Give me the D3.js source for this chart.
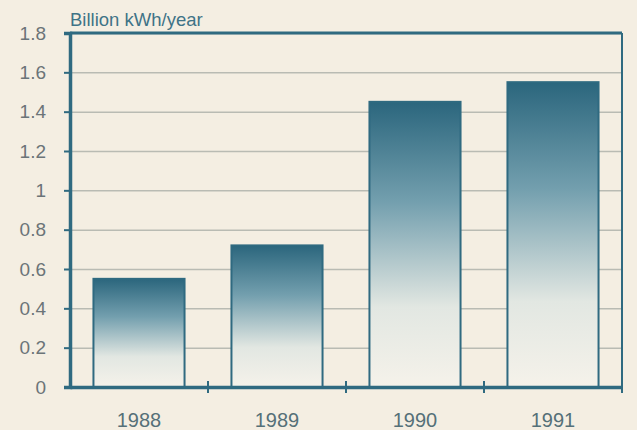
<!DOCTYPE html>
<html>
<head>
<meta charset="utf-8">
<script src="https://cdnjs.cloudflare.com/ajax/libs/d3/7.8.5/d3.min.js"></script>
<style>
  body { margin: 0; background: #f4eee2; }
  svg { display: block; font-family: "Liberation Sans", Arial, sans-serif; }
</style>
</head>
<body>
<script>
 ///////////////////////////////////////////////////////
 // data

 var years = ["1988", "1989", "1990", "1991"];
 var values = [0.55, 0.72, 1.45, 1.55];
 var yTicks = [0, 0.2, 0.4, 0.6, 0.8, 1, 1.2, 1.4, 1.6, 1.8];
 var unitLabel = "Billion kWh/year";

 ///////////////////////////////////////////////////////
 // margins

 var w = 637;
 var h = 430;
 var svg = d3.select("body").append("svg")
   .attr("width", w)
   .attr("height", h),
   margin = { top: 33, bottom: 43, left: 70, right: 15 },
   width = w - margin.left - margin.right,
   height = h - margin.top - margin.bottom;

 var teal = "#2f6a80";

 ///////////////////////////////////////////////////////
 // scales

 var x = d3.scaleBand()
   .domain(years)
   .range([0, width])
   .paddingInner(0.34)
   .paddingOuter(0.17);
 var y = d3.scaleLinear()
   .domain([0, 1.8])
   .range([height, 0]);

 // gradient for bars
 var grad = svg.append("defs").append("linearGradient")
   .attr("id", "barGrad")
   .attr("x1", 0).attr("y1", 0).attr("x2", 0).attr("y2", 1);
 grad.append("stop").attr("offset", "0%").attr("stop-color", "#2b667d");
 grad.append("stop").attr("offset", "35%").attr("stop-color", "#739fae");
 grad.append("stop").attr("offset", "72%").attr("stop-color", "#e2e7e2");
 grad.append("stop").attr("offset", "100%").attr("stop-color", "#f5f2ea");

 var chart = svg.append("g")
   .attr("transform", "translate(" + margin.left + "," + margin.top + ")");

 ///////////////////////////////////////////////////////
 // gridlines

 chart.append("g")
   .attr("class", "grid")
   .call(d3.axisLeft(y).tickValues(yTicks.slice(1)).tickFormat("").tickSize(-width))
   .call(function(g) {
     g.select(".domain").remove();
     g.selectAll("line").attr("stroke", "#b9bbb3").attr("stroke-width", 1.5);
   });

 ///////////////////////////////////////////////////////
 // bars

 chart.selectAll(".bar")
   .data(values)
   .enter().append("rect")
   .attr("class", "bar")
   .attr("x", function(d, i) { return x(years[i]); })
   .attr("y", function(d) { return y(d); })
   .attr("width", x.bandwidth())
   .attr("height", function(d) { return y(0) - y(d); })
   .attr("fill", "url(#barGrad)")
   .attr("stroke", teal)
   .attr("stroke-width", 2);

 ///////////////////////////////////////////////////////
 // frame and axes

 // top and right frame
 chart.append("line")
   .attr("x1", 0).attr("x2", width)
   .attr("y1", y(1.8)).attr("y2", y(1.8))
   .attr("stroke", teal).attr("stroke-width", 3);
 chart.append("line")
   .attr("x1", width).attr("x2", width)
   .attr("y1", y(1.8)).attr("y2", y(0))
   .attr("stroke", teal).attr("stroke-width", 2);

 var yAxis = d3.axisLeft(y)
   .tickValues(yTicks)
   .tickSize(6)
   .tickPadding(18)
   .tickFormat(function(d) { return d3.format("")(+d.toFixed(1)); });
 chart.append("g")
   .attr("class", "axis y")
   .call(yAxis)
   .call(function(g) {
     g.select(".domain").attr("stroke", teal).attr("stroke-width", 3.5);
     g.selectAll("line").attr("stroke", teal).attr("stroke-width", 2);
     g.selectAll("text").attr("fill", "#6b7478").style("font-size", "19px");
   });

 // x axis: ticks sit between categories
 var xAxis = d3.axisBottom(x).tickSize(0).tickPadding(26);
 chart.append("g")
   .attr("class", "axis x")
   .attr("transform", "translate(0," + height + ")")
   .call(xAxis)
   .call(function(g) {
     g.select(".domain").attr("stroke", teal).attr("stroke-width", 3.5);
     g.selectAll("text").attr("fill", "#557078").style("font-size", "20px");
   });
 var bounds = years.slice(1).map(function(d) { return x(d) - x.step() * x.paddingInner() / 2; });
 bounds.push(width);
 chart.select(".x.axis").selectAll(".sep")
   .data(bounds)
   .enter().append("line")
   .attr("class", "sep")
   .attr("x1", function(d) { return d; }).attr("x2", function(d) { return d; })
   .attr("y1", -6).attr("y2", 6)
   .attr("stroke", teal).attr("stroke-width", 2);

 // unit label
 chart.append("text")
   .attr("x", 0)
   .attr("y", -7)
   .attr("fill", "#3f7387")
   .style("font-size", "18.5px")
   .text(unitLabel);
</script>
</body>
</html>
